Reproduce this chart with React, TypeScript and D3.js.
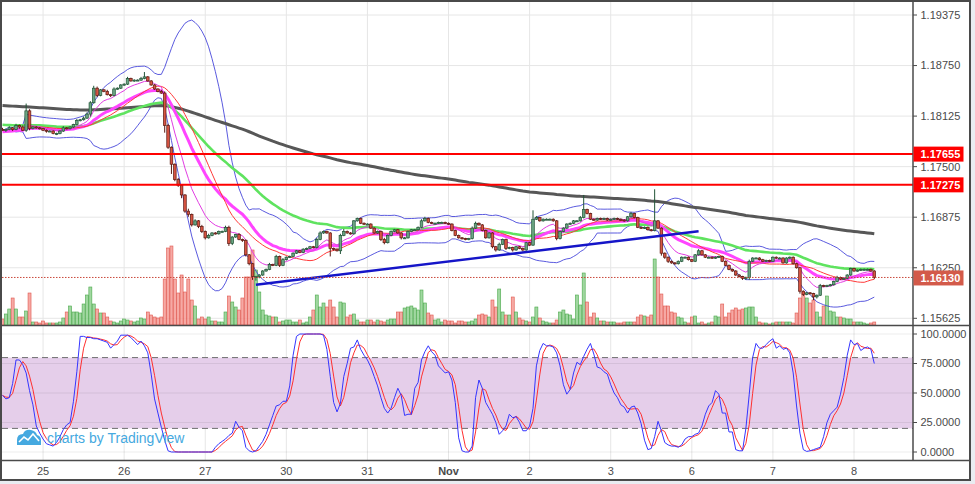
import * as d3 from "d3";

// hourly EUR/USD bars, 24 Oct 12:00 .. 8 Nov
const closes = [
  1.1795, 1.1796, 1.1798, 1.1796, 1.1801, 1.1799, 1.1795, 1.1819, 1.1797, 1.1799, 1.1798, 1.1797,
  1.1795, 1.1794, 1.1794, 1.1791, 1.1791, 1.1794, 1.1798, 1.1797, 1.1799, 1.1802, 1.1807, 1.1808,
  1.181, 1.1815, 1.1829, 1.1847, 1.1838, 1.1845, 1.1843, 1.1839, 1.1838, 1.1846, 1.1847, 1.1851,
  1.1852, 1.1859, 1.1856, 1.1857, 1.1857, 1.1859, 1.1861, 1.1856, 1.1851, 1.1846, 1.1843, 1.1841,
  1.1801, 1.1774, 1.1753, 1.1734, 1.1727, 1.1715, 1.1695, 1.1691, 1.1678, 1.1683, 1.1676, 1.167,
  1.1662, 1.1665, 1.1668, 1.1667, 1.167, 1.167, 1.1675, 1.1655, 1.1663, 1.1666, 1.166, 1.1659,
  1.1641, 1.163, 1.1614, 1.1614, 1.1616, 1.1621, 1.1623, 1.1629, 1.1628, 1.1639, 1.1628, 1.1635,
  1.1638, 1.1639, 1.1643, 1.1646, 1.1644, 1.1648, 1.1649, 1.1651, 1.165, 1.166, 1.1668, 1.167,
  1.1668, 1.1649, 1.1648, 1.1646, 1.1665, 1.167, 1.1668, 1.1667, 1.1683, 1.1686, 1.168, 1.1679,
  1.1679, 1.1674, 1.1668, 1.167, 1.166, 1.1656, 1.1665, 1.167, 1.1672, 1.1668, 1.1662, 1.1662,
  1.167, 1.1672, 1.1672, 1.1675, 1.1683, 1.1686, 1.1681, 1.168, 1.168, 1.1681, 1.1681, 1.168,
  1.1679, 1.1671, 1.1665, 1.1662, 1.1661, 1.166, 1.1661, 1.1674, 1.168, 1.1678, 1.1671, 1.1662,
  1.1668, 1.1651, 1.1647, 1.1654, 1.166, 1.1649, 1.165, 1.1647, 1.1651, 1.1649, 1.1647, 1.1656,
  1.1653, 1.1685, 1.1687, 1.1683, 1.1685, 1.1685, 1.1685, 1.1683, 1.1661, 1.167, 1.1674, 1.1679,
  1.168, 1.1683, 1.1683, 1.1687, 1.1697, 1.1692, 1.1685, 1.1684, 1.1686, 1.1685, 1.1686, 1.1684,
  1.1685, 1.1686, 1.1685, 1.1684, 1.1683, 1.1688, 1.1692, 1.1687, 1.1675, 1.1674, 1.1675, 1.1672,
  1.1671, 1.1683, 1.1674, 1.1643, 1.1638, 1.1633, 1.1631, 1.163, 1.1633, 1.1638, 1.1638, 1.1635,
  1.1633, 1.1641, 1.1646, 1.1641, 1.1638, 1.1638, 1.1637, 1.1638, 1.1639, 1.1633, 1.1628, 1.1623,
  1.1621, 1.1616, 1.1614, 1.1612, 1.1613, 1.1633, 1.1637, 1.1637, 1.1635, 1.1633, 1.1634, 1.1633,
  1.1638, 1.1637, 1.1637, 1.1631, 1.1637, 1.1638, 1.163, 1.1625, 1.1596, 1.1592, 1.1594, 1.1593,
  1.1589, 1.1591, 1.1603, 1.1602, 1.1603, 1.1604, 1.1608, 1.1613, 1.1611, 1.1612, 1.1616, 1.1624,
  1.1621, 1.1622, 1.1623, 1.1623, 1.1623, 1.1621, 1.1613,
];
const firstOpen = 1.1796;

// wick lengths in pips above / below the body
const upWick = [
  2, 1, 2, 1, 2, 1, 2, 9, 2, 1, 1, 1,  1, 1, 1, 1, 1, 1, 2, 1, 1, 1, 2, 1,
  2, 2, 2, 3, 2, 1, 1, 2, 1, 2, 1, 1,  1, 2, 1, 1, 1, 2, 6, 1, 1, 1, 1, 2,
  2, 2, 1, 1, 2, 1, 1, 3, 1, 2, 1, 2,  1, 2, 1, 1, 1, 1, 2, 2, 1, 1, 2, 1,
  1, 1, 1, 1, 1, 1, 1, 2, 1, 2, 1, 2,  1, 1, 1, 1, 1, 1, 1, 1, 1, 2, 2, 1,
  1, 1, 1, 1, 2, 3, 1, 1, 1, 1, 1, 1,  1, 1, 1, 1, 1, 2, 1, 1, 1, 1, 1, 1,
  1, 1, 1, 1, 2, 2, 1, 1, 1, 1, 1, 1,  1, 1, 1, 1, 1, 1, 1, 2, 2, 1, 1, 1,
  1, 1, 1, 2, 1, 1, 1, 1, 1, 1, 1, 1,  1, 11, 2, 1, 1, 1, 1, 1, 1, 1, 1, 1,
  1, 1, 1, 2, 18, 1, 1, 1, 1, 1, 1, 1,  1, 1, 1, 1, 1, 1, 2, 1, 1, 1, 1, 1,
  1, 39, 1, 1, 1, 1, 1, 1, 1, 1, 1, 1,  1, 1, 2, 1, 1, 1, 1, 1, 1, 1, 1, 1,
  1, 1, 1, 1, 1, 2, 1, 1, 1, 1, 1, 1,  1, 1, 1, 1, 1, 1, 1, 1, 1, 1, 1, 1,
  1, 1, 2, 1, 1, 1, 1, 2, 1, 1, 1, 1,  1, 1, 1, 1, 1, 1, 1,
];
const downWick = [
  1, 2, 1, 2, 1, 2, 1, 2, 2, 1, 1, 1,  1, 2, 1, 1, 2, 1, 1, 1, 1, 1, 1, 1,
  1, 1, 3, 1, 2, 1, 1, 1, 2, 1, 1, 1,  1, 1, 1, 1, 1, 1, 1, 1, 1, 1, 1, 1,
  9, 2, 12, 2, 2, 4, 2, 3, 2, 1, 2, 2,  2, 1, 1, 1, 1, 1, 1, 3, 2, 1, 1, 2,
  2, 2, 4, 5, 2, 1, 1, 1, 1, 1, 2, 1,  1, 1, 1, 1, 1, 1, 1, 1, 1, 1, 1, 1,
  1, 10, 2, 1, 4, 1, 1, 1, 1, 1, 1, 1,  1, 1, 1, 1, 2, 2, 1, 1, 1, 1, 2, 1,
  1, 1, 1, 1, 1, 1, 1, 1, 1, 1, 1, 1,  1, 1, 1, 1, 1, 1, 1, 1, 1, 1, 1, 1,
  1, 2, 2, 1, 1, 2, 1, 2, 1, 1, 2, 1,  1, 1, 1, 1, 1, 1, 1, 1, 2, 1, 1, 1,
  1, 1, 1, 1, 1, 1, 1, 1, 1, 1, 1, 1,  1, 1, 1, 1, 1, 1, 1, 1, 1, 1, 1, 1,
  1, 1, 1, 3, 2, 2, 1, 1, 1, 1, 1, 1,  1, 1, 1, 1, 1, 1, 1, 1, 1, 1, 1, 1,
  1, 1, 1, 2, 2, 3, 1, 1, 1, 1, 1, 1,  1, 1, 1, 1, 1, 1, 1, 1, 3, 2, 1, 1,
  4, 2, 1, 1, 1, 1, 1, 1, 1, 1, 1, 1,  1, 1, 1, 1, 1, 1, 2,
];

const volumes = [
  6, 11, 16, 27, 16, 8, 8, 14, 32, 3, 3, 2,  4, 2, 2, 2, 2, 3, 7, 13, 19, 13, 13, 12,
  21, 30, 38, 21, 16, 12, 12, 8, 4, 3, 2, 4,  6, 5, 4, 3, 4, 7, 6, 13, 10, 8, 7, 8,
  46, 77, 79, 46, 32, 50, 33, 46, 25, 19, 6, 8,  6, 8, 4, 4, 3, 3, 13, 29, 23, 18, 15, 27,
  48, 48, 75, 55, 33, 15, 10, 9, 8, 8, 3, 4,  5, 5, 3, 3, 5, 2, 3, 8, 15, 30, 18, 22,
  18, 25, 18, 8, 23, 22, 8, 10, 11, 5, 3, 3,  5, 5, 3, 5, 4, 3, 5, 6, 6, 13, 13, 17,
  18, 19, 17, 15, 35, 22, 12, 10, 5, 6, 3, 5,  4, 4, 2, 4, 4, 3, 3, 4, 6, 10, 11, 10,
  8, 25, 18, 36, 13, 10, 10, 28, 13, 7, 5, 4,  3, 8, 18, 7, 4, 3, 2, 2, 5, 13, 15, 11,
  10, 6, 30, 20, 52, 23, 8, 12, 7, 4, 4, 3,  3, 3, 2, 2, 3, 3, 3, 3, 8, 10, 9, 8,
  10, 66, 48, 31, 19, 19, 13, 12, 8, 7, 3, 2,  8, 9, 2, 3, 1, 2, 3, 9, 8, 21, 8, 12,
  15, 17, 15, 16, 17, 18, 18, 8, 3, 2, 2, 1,  2, 3, 3, 3, 3, 3, 2, 12, 27, 33, 27, 22,
  25, 13, 8, 19, 29, 14, 13, 8, 8, 7, 6, 6,  3, 3, 3, 2, 1, 2, 3,
];

// slow %K of the stochastic
const stochK = [
  48, 45, 46, 58, 78, 78, 74, 67, 52, 40, 22, 16,  11, 7, 6, 5, 8, 13, 19, 23, 25, 43, 68, 98,
  98, 97, 97, 96, 96, 95, 94, 93, 88, 91, 94, 99,  99, 99, 97, 94, 91, 94, 90, 84, 66, 45, 33, 21,
  10, 1, 0, 0, 0, 0, 0, 0, 0, 0, 0, 0,  0, 0, 0, 4, 7, 9, 11, 14, 16, 26, 21, 18,
  4, 1, 0, 1, 5, 9, 15, 23, 31, 39, 40, 43,  43, 56, 82, 98, 100, 100, 100, 100, 100, 100, 100, 99,
  87, 64, 42, 34, 41, 64, 75, 88, 89, 95, 87, 82,  78, 72, 64, 56, 46, 37, 33, 37, 46, 54, 48, 31,
  32, 32, 54, 59, 78, 85, 90, 85, 82, 73, 70, 67,  68, 61, 42, 12, 1, 0, 0, 5, 46, 61, 54, 42,
  37, 32, 25, 15, 18, 22, 32, 29, 30, 25, 18, 18,  22, 37, 73, 86, 92, 90, 90, 89, 84, 73, 57, 49,
  53, 67, 76, 74, 81, 87, 92, 83, 72, 71, 68, 66,  57, 50, 46, 40, 38, 33, 38, 39, 33, 24, 10, 2,
  3, 13, 26, 18, 8, 6, 5, 5, 4, 6, 11, 13,  13, 15, 16, 22, 32, 39, 42, 52, 49, 33, 33, 17,
  17, 2, 1, 1, 20, 49, 80, 92, 88, 88, 91, 94,  96, 88, 90, 87, 88, 84, 67, 39, 16, 2, 0.5, 1,
  2, 3, 4, 13, 25, 32, 35, 38, 49, 63, 82, 95,  91, 92, 86, 88, 89, 87, 75,
];

const dayLabels = ["25", "26", "27", "30", "31", "Nov", "2", "3", "6", "7", "8"];
const dayStartBars = [12, 36, 60, 84, 108, 132, 156, 180, 204, 228, 252];
const priceTicks = [1.19375, 1.1875, 1.18125, 1.175, 1.16875, 1.1625, 1.15625];
const oscTicks = [100, 75, 50, 25, 0];
const levels = [1.17655, 1.17275];
const lastPrice = 1.1613;
const trendBars = [75, 206];
const trendPrices = [1.1604, 1.167];
// moving-average values at the left edge of the window
const ema200Start = 1.1826;
const ema50Start = 1.1802;
const ema21Start = 1.1793;

const FONT = "'Liberation Sans', Arial, sans-serif";
const PLOT_R = 913;

function ema(values: number[], period: number, start: number) {
  const k = 2 / (period + 1);
  let e = start;
  return values.map((v) => (e = e + k * (v - e)));
}

function windowed(values: number[], n: number) {
  return values.map((_, i) => values.slice(Math.max(0, i - n + 1), i + 1));
}

export default function App() {
  const x = d3.scaleLinear().domain([0, closes.length - 1]).range([2.5, 2.5 + 3.379 * (closes.length - 1)]);
  const y = d3.scaleLinear().domain([1.15625, 1.19375]).range([318.3, 15]);
  const yVol = d3.scaleLinear().domain([0, 100]).range([325, 225]);
  const yOsc = d3.scaleLinear().domain([0, 100]).range([452, 334]);

  const wins = windowed(closes, 20);
  const basis = wins.map((w) => d3.mean(w) as number);
  const dev = wins.map((w, i) => Math.sqrt(d3.mean(w, (v) => (v - basis[i]) ** 2) as number));
  const bbUp = basis.map((m, i) => m + 2 * dev[i]);
  const bbLo = basis.map((m, i) => m - 2 * dev[i]);
  const gray = ema(closes, 200, ema200Start);
  const green = ema(closes, 50, ema50Start);
  const magenta = ema(closes, 21, ema21Start);
  const fast = ema(closes, 8, closes[0]);
  const stochD = windowed(stochK, 3).map((w) => d3.mean(w) as number);

  const priceLine = d3.line<number>().x((_, i) => x(i)).y((d) => y(d));
  const oscLine = d3.line<number>().x((_, i) => x(i)).y((d) => yOsc(d));

  const bars = closes.map((c, i) => {
    const o = i === 0 ? firstOpen : closes[i - 1];
    const up = c >= o;
    return {
      i, o, c, up,
      hi: Math.max(o, c) + upWick[i] * 1e-4,
      lo: Math.min(o, c) - downWick[i] * 1e-4,
    };
  });

  return (
    <div style={{ position: "absolute", left: 0, top: 0 }}>
      <svg width={975} height={484} style={{ display: "block", fontFamily: FONT }}>
        <defs>
          <clipPath id="mainClip"><rect x={2} y={2} width={PLOT_R - 2} height={323} /></clipPath>
          <clipPath id="oscClip"><rect x={2} y={326} width={PLOT_R - 2} height={134} /></clipPath>
        </defs>
        <rect width={975} height={484} fill="#e9ecf1" />
        <rect x={1} y={1} width={969} height={479} fill="#fff" stroke="#4a4a4a" strokeWidth={2} />

        {/* grid */}
        {priceTicks.map((t) => (
          <line key={t} x1={2} x2={PLOT_R} y1={y(t)} y2={y(t)} stroke="#e6e6e6" />
        ))}
        {dayStartBars.map((b) => (
          <line key={b} x1={x(b)} x2={x(b)} y1={2} y2={460} stroke="#e6e6e6" />
        ))}

        {/* stochastic pane */}
        <g clipPath="url(#oscClip)">
          <rect x={2} y={yOsc(80)} width={PLOT_R - 2} height={yOsc(20) - yOsc(80)} fill="#e5ceea" />
          {oscTicks.map((t) => (
            <line key={t} x1={2} x2={PLOT_R} y1={yOsc(t)} y2={yOsc(t)} stroke="#000" strokeOpacity={0.07} />
          ))}
          {[80, 20].map((t) => (
            <line key={t} x1={2} x2={PLOT_R} y1={yOsc(t)} y2={yOsc(t)} stroke="#6e6e6e" strokeDasharray="6,4" />
          ))}
          <path d={oscLine(stochD) ?? ""} fill="none" stroke="#ff3030" strokeWidth={1} />
          <path d={oscLine(stochK) ?? ""} fill="none" stroke="#3535ff" strokeWidth={1} />
        </g>

        {/* watermark */}
        <g fill="#45a9e0">
          <path d="M17,445 L17,440 Q17,434 23,434 Q25,429 31,430 Q36,431 37,435 Q41,436 41,440 L41,445 Z" />
          <polyline points="19,442 24,437 28,440 33,434 39,441" fill="none" stroke="#fff" strokeWidth={1.6} />
          <text x={47} y={443} fontSize={14} fontFamily="Arial, 'Liberation Sans', sans-serif">charts by TradingView</text>
        </g>

        {/* price pane */}
        <g clipPath="url(#mainClip)">
          {bars.map((b) => (
            <rect key={b.i} x={x(b.i) - 1.5} width={3} y={yVol(volumes[b.i])}
              height={325 - yVol(volumes[b.i])}
              fill={b.up ? "#8fd08f" : "#f59a94"} fillOpacity={0.85}
              stroke={b.up ? "#4aa84a" : "#e0584f"} strokeWidth={0.6} />
          ))}
          <path d={priceLine(bbUp) ?? ""} fill="none" stroke="#3d3dd8" strokeWidth={1} strokeOpacity={0.85} />
          <path d={priceLine(bbLo) ?? ""} fill="none" stroke="#3d3dd8" strokeWidth={1} strokeOpacity={0.85} />
          <path d={priceLine(gray) ?? ""} fill="none" stroke="#575757" strokeWidth={3} />
          <path d={priceLine(green) ?? ""} fill="none" stroke="#5fe35f" strokeWidth={2.6} />
          <path d={priceLine(magenta) ?? ""} fill="none" stroke="#ff45ff" strokeWidth={3} />
          <path d={priceLine(basis) ?? ""} fill="none" stroke="#ff3a3a" strokeWidth={1} />
          <path d={priceLine(fast) ?? ""} fill="none" stroke="#e23ee2" strokeWidth={1} />

          {bars.map((b) => {
            const top = y(Math.max(b.o, b.c));
            const h = Math.max(1, y(Math.min(b.o, b.c)) - top);
            return (
              <g key={b.i}>
                <line x1={x(b.i)} x2={x(b.i)} y1={y(b.hi)} y2={y(b.lo)} stroke={b.up ? "#225437" : "#5b1a13"} />
                <rect x={x(b.i) - 1.3} width={2.6} y={top} height={h}
                  fill={b.up ? "#6ba583" : "#d75442"} stroke={b.up ? "#225437" : "#5b1a13"} strokeWidth={0.7} />
              </g>
            );
          })}

          {levels.map((l) => (
            <line key={l} x1={2} x2={PLOT_R} y1={y(l)} y2={y(l)} stroke="#ff0000" strokeWidth={2} />
          ))}
          <line x1={x(trendBars[0])} x2={x(trendBars[1])} y1={y(trendPrices[0])} y2={y(trendPrices[1])}
            stroke="#1515c8" strokeWidth={2.5} />
          <line x1={2} x2={PLOT_R} y1={y(lastPrice)} y2={y(lastPrice)} stroke="#c9483a" strokeDasharray="1.5,1.5" />
        </g>

        {/* frame lines */}
        <line x1={PLOT_R} x2={PLOT_R} y1={2} y2={460} stroke="#4a4a4a" strokeWidth={1.5} />
        <line x1={2} x2={970} y1={325.5} y2={325.5} stroke="#4a4a4a" strokeWidth={1.5} />
        <line x1={2} x2={970} y1={460.5} y2={460.5} stroke="#4a4a4a" strokeWidth={1.5} />

        {/* price axis */}
        {priceTicks.map((t) => (
          <g key={t}>
            <line x1={PLOT_R} x2={PLOT_R + 4} y1={y(t)} y2={y(t)} stroke="#4a4a4a" />
            <text x={920.5} y={y(t)} dy="0.35em" fontSize={11} fill="#4a4a4a">{t.toFixed(5)}</text>
          </g>
        ))}
        {levels.map((l) => (
          <g key={l}>
            <rect x={913.5} y={y(l) - 7.5} width={50} height={15} fill="#ff0000" />
            <text x={920.5} y={y(l)} dy="0.35em" fontSize={11} fontWeight="bold" fill="#fff">{l.toFixed(5)}</text>
          </g>
        ))}
        <rect x={913.5} y={y(lastPrice) - 7} width={50} height={15} fill="#d35a4a" />
        <text x={920.5} y={y(lastPrice) + 0.5} dy="0.35em" fontSize={11} fontWeight="bold" fill="#fff">{lastPrice.toFixed(5)}</text>

        {/* oscillator axis */}
        {oscTicks.map((t) => (
          <g key={t}>
            <line x1={PLOT_R} x2={PLOT_R + 4} y1={yOsc(t)} y2={yOsc(t)} stroke="#4a4a4a" />
            <text x={920.5} y={yOsc(t)} dy="0.35em" fontSize={11} fill="#4a4a4a">{t.toFixed(4)}</text>
          </g>
        ))}

        {/* time axis */}
        {dayStartBars.map((b, k) => (
          <text key={b} x={x(b)} y={475} textAnchor="middle" fontSize={11}
            fontWeight={dayLabels[k] === "Nov" ? "bold" : "normal"} fill="#4a4a4a">{dayLabels[k]}</text>
        ))}
      </svg>
    </div>
  );
}
